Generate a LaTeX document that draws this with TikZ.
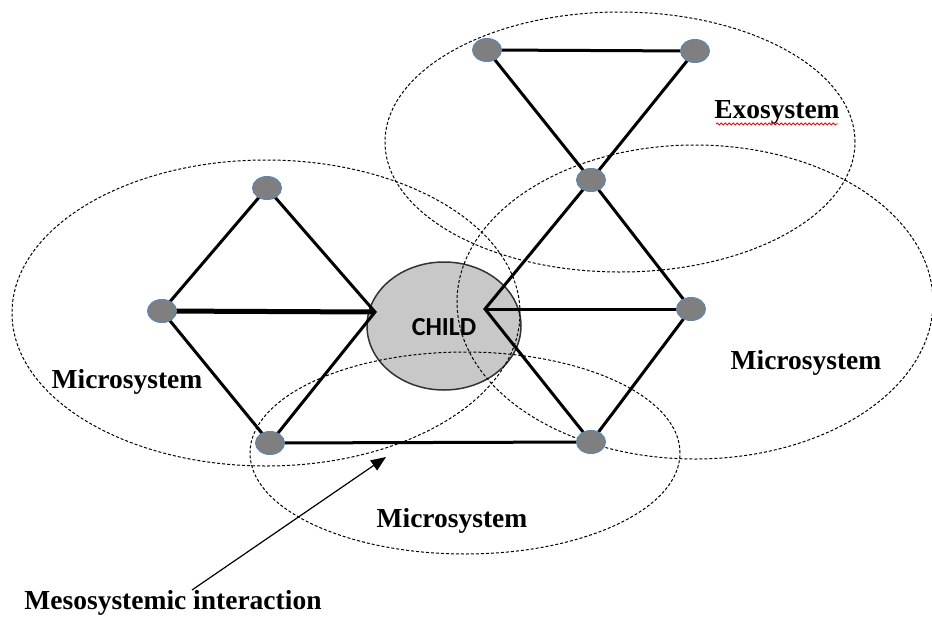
\documentclass[tikz,border=0pt]{standalone}
\usepackage{fontspec}
\setmainfont{Liberation Serif}
\newfontfamily\childfont{Carlito}
\usetikzlibrary{arrows.meta,decorations.pathmorphing,shapes.geometric}
\definecolor{nodegray}{HTML}{7F7F7F}
\definecolor{nodeblue}{HTML}{5B87B8}
\definecolor{childgray}{HTML}{C8C8C8}
\tikzset{
  vtx/.style={ellipse,minimum width=29pt,minimum height=23pt,inner sep=0pt,fill=nodegray,draw=nodeblue,line width=1pt},
  sysring/.style={draw=black,line width=1pt,dash pattern=on 3pt off 2pt},
  tie/.style={line width=3pt,black},
  lab/.style={font=\fontsize{27.5}{30}\selectfont\bfseries,inner sep=0pt}
}
\begin{document}
\begin{tikzpicture}[x=1pt,y=-1pt]
\useasboundingbox (0,0) rectangle (932,619);
% child
\node[ellipse,minimum width=154pt,minimum height=128pt,fill=childgray,draw=black!80,line width=1.5pt] (child) at (444,326) {};
\node[font=\childfont\fontsize{26}{28}\selectfont\bfseries,text=black,inner sep=0pt] (childlab) at (444,327) {CHILD};
% dashed rings
\draw[sysring] (620,142) ellipse [x radius=235pt,y radius=130pt];
\draw[sysring] (266,313) ellipse [x radius=254pt,y radius=153pt];
\draw[sysring] (695,302) ellipse [x radius=238pt,y radius=157pt];
\draw[sysring] (465,453) ellipse [x radius=215pt,y radius=101pt];
% vertices
\coordinate (lapex) at (375,312);
\coordinate (rapex) at (485,309);
\coordinate (t1) at (487,50);
\coordinate (t2) at (695,51);
\coordinate (rt) at (591,180);
\coordinate (rr) at (691,309);
\coordinate (rb) at (591,442);
\coordinate (lt) at (267,188);
\coordinate (ll) at (162,311);
\coordinate (lb) at (270,443);
% ties
\draw[tie] (t1) -- (t2);
\draw[tie] (t1) -- (rt);
\draw[tie] (t2) -- (rt);
\draw[tie] (rt) -- (rr);
\draw[tie] (rr) -- (rb);
\draw[tie] (rt) -- (rapex) -- (rb);
\draw[tie] (rr) -- (rapex);
\draw[tie] (lt) -- (ll);
\draw[tie] (ll) -- (lb);
\draw[tie] (lt) -- (lapex) -- (lb);
\draw[line width=5pt] (ll) -- (lapex);
\draw[tie] (lb) -- (rb);
% vertex nodes on top
\foreach \p in {t1,t2,rt,rr,rb,lt,ll,lb}{\node[vtx] (v\p) at (\p) {};}
% labels
\node[lab] (exo) at (777,112) {Exosystem};
\draw[red,line width=0.8pt,decorate,decoration={snake,amplitude=1pt,segment length=4pt}] (716,124) -- (838,124);
\node[lab] (micl) at (127,382) {Microsystem};
\node[lab] (micr) at (806,363) {Microsystem};
\node[lab] (micb) at (452,521) {Microsystem};
\node[lab] (meso) at (173,603) {Mesosystemic interaction};
\coordinate (mesotip) at (386,457);
\draw[line width=1.2pt,-{Triangle[length=15pt,width=12pt]}] (192,590) -- (mesotip);
\end{tikzpicture}
\end{document}
